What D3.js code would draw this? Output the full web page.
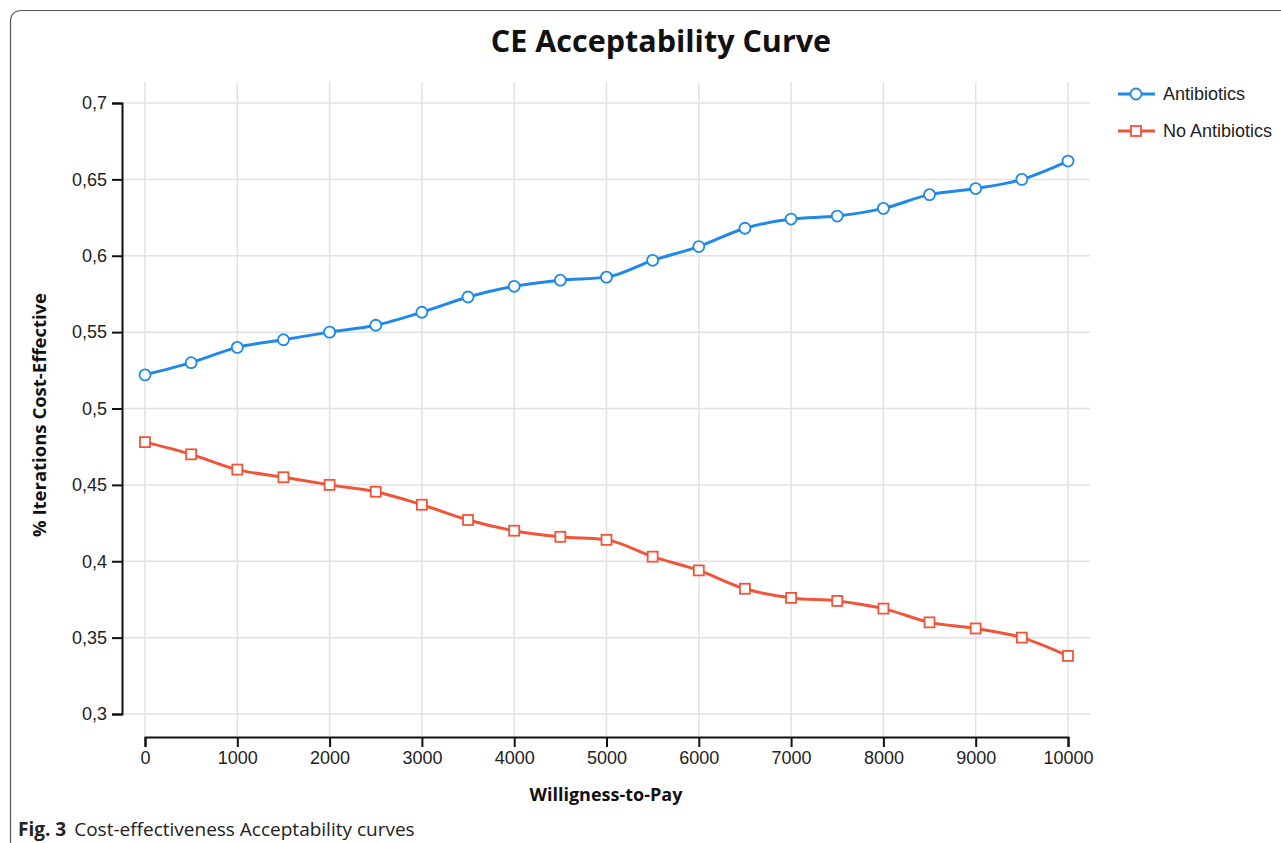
<!DOCTYPE html>
<html>
<head>
<meta charset="utf-8">
<script src="https://cdn.jsdelivr.net/npm/d3@7"></script>
<style>
  body { margin: 0; background: #fff; }
  svg { display: block; }
</style>
</head>
<body>
<div id="chart"></div>
<script>
// willingness-to-pay grid and the two acceptability curves
const wtp = [0, 500, 1000, 1500, 2000, 2500, 3000, 3500, 4000, 4500, 5000,
             5500, 6000, 6500, 7000, 7500, 8000, 8500, 9000, 9500, 10000];
const antibiotics = [0.522, 0.530, 0.540, 0.545, 0.550, 0.5545, 0.563, 0.573, 0.580, 0.584, 0.586,
                     0.597, 0.606, 0.618, 0.624, 0.626, 0.631, 0.640, 0.644, 0.650, 0.662];
const noAntibiotics = [0.478, 0.470, 0.460, 0.455, 0.450, 0.4455, 0.437, 0.427, 0.420, 0.416, 0.414,
                       0.403, 0.394, 0.382, 0.376, 0.374, 0.369, 0.360, 0.356, 0.350, 0.338];
const xTicks = [0, 1000, 2000, 3000, 4000, 5000, 6000, 7000, 8000, 9000, 10000];
const yTicks = [0.3, 0.35, 0.4, 0.45, 0.5, 0.55, 0.6, 0.65, 0.7];
const seriesNames = ['Antibiotics', 'No Antibiotics'];

const W = 1281, H = 843;
const blue = '#1f88e8', red = '#f0553a';

const svg = d3.select('#chart').append('svg')
    .attr('width', W)
    .attr('height', H);

// figure frame (rounded top-left corner, like the journal page)
svg.append('path')
    .attr('d', `M10.5,${H} L10.5,22 Q10.5,10.5 22,10.5 L${W},10.5`)
    .attr('fill', 'none')
    .attr('stroke', '#555')
    .attr('stroke-width', 1.2);

const x = d3.scaleLinear().domain([0, 10000]).range([145, 1068]);
const y = d3.scaleLinear().domain([0.3, 0.7]).range([714, 103]);

const fmt = d => String(d).replace('.', ',');

// grid
svg.append('g')
    .selectAll('line')
    .data(yTicks)
    .join('line')
    .attr('x1', 123).attr('x2', 1090)
    .attr('y1', d => y(d)).attr('y2', d => y(d))
    .attr('stroke', '#e2e2e2')
    .attr('stroke-width', 1.5);

svg.append('g')
    .selectAll('line')
    .data(wtp.filter(d => d % 1000 === 0))
    .join('line')
    .attr('x1', d => x(d)).attr('x2', d => x(d))
    .attr('y1', 82).attr('y2', 736)
    .attr('stroke', '#e2e2e2')
    .attr('stroke-width', 1.5);

// axes
const yAxis = svg.append('g')
    .attr('transform', 'translate(122,0)')
    .call(d3.axisLeft(y).tickValues(yTicks).tickFormat(fmt).tickSize(10).tickPadding(5));
const xAxis = svg.append('g')
    .attr('transform', 'translate(0,737)')
    .call(d3.axisBottom(x).tickValues(xTicks).tickFormat(d => String(d)).tickSize(10).tickPadding(4));

[yAxis, xAxis].forEach(a => {
    a.select('.domain').attr('stroke', '#111').attr('stroke-width', 2);
    a.selectAll('.tick line').attr('stroke', '#111').attr('stroke-width', 2);
    a.selectAll('text')
        .attr('fill', '#222')
        .style('font-family', '"Liberation Sans", Arial, sans-serif')
        .style('font-size', '18px');
});

// lines and markers
const line = d3.line()
    .x((d, i) => x(wtp[i]))
    .y(d => y(d))
    .curve(d3.curveMonotoneX);

svg.append('path')
    .datum(antibiotics)
    .attr('d', line)
    .attr('fill', 'none')
    .attr('stroke', blue)
    .attr('stroke-width', 3);

svg.append('path')
    .datum(noAntibiotics)
    .attr('d', line)
    .attr('fill', 'none')
    .attr('stroke', red)
    .attr('stroke-width', 3);

svg.append('g')
    .selectAll('circle')
    .data(antibiotics)
    .join('circle')
    .attr('cx', (d, i) => x(wtp[i]))
    .attr('cy', d => y(d))
    .attr('r', 5.5)
    .attr('fill', '#fff')
    .attr('stroke', blue)
    .attr('stroke-width', 1.8);

svg.append('g')
    .selectAll('rect')
    .data(noAntibiotics)
    .join('rect')
    .attr('x', (d, i) => x(wtp[i]) - 5)
    .attr('y', d => y(d) - 5)
    .attr('width', 10)
    .attr('height', 10)
    .attr('fill', '#fff')
    .attr('stroke', red)
    .attr('stroke-width', 1.8);

// titles
svg.append('text')
    .attr('x', 661).attr('y', 52)
    .attr('text-anchor', 'middle')
    .style('font-family', '"Open Sans", "Noto Sans", sans-serif')
    .style('font-weight', 'bold')
    .style('font-size', '30.5px')
    .attr('fill', '#111')
    .text('CE Acceptability Curve');

svg.append('text')
    .attr('x', 606).attr('y', 801)
    .attr('text-anchor', 'middle')
    .style('font-family', '"Open Sans", "Noto Sans", sans-serif')
    .style('font-weight', 'bold')
    .style('font-size', '18px')
    .attr('fill', '#111')
    .text('Willigness-to-Pay');

svg.append('text')
    .attr('transform', 'translate(46,415) rotate(-90)')
    .attr('text-anchor', 'middle')
    .style('font-family', '"Open Sans", "Noto Sans", sans-serif')
    .style('font-weight', 'bold')
    .style('font-size', '18.5px')
    .attr('fill', '#111')
    .text('% Iterations Cost-Effective');

// legend
const legend = svg.append('g');
seriesNames.forEach((name, i) => {
    const ly = 94 + i * 37;
    const c = i === 0 ? blue : red;
    legend.append('line')
        .attr('x1', 1118).attr('x2', 1155)
        .attr('y1', ly).attr('y2', ly)
        .attr('stroke', c).attr('stroke-width', 3);
    if (i === 0) {
        legend.append('circle')
            .attr('cx', 1136).attr('cy', ly).attr('r', 5.5)
            .attr('fill', '#fff').attr('stroke', c).attr('stroke-width', 1.8);
    } else {
        legend.append('rect')
            .attr('x', 1131).attr('y', ly - 5).attr('width', 10).attr('height', 10)
            .attr('fill', '#fff').attr('stroke', c).attr('stroke-width', 1.8);
    }
    legend.append('text')
        .attr('x', 1163).attr('y', ly + 6)
        .style('font-family', '"Liberation Sans", Arial, sans-serif')
        .style('font-size', '18px')
        .attr('fill', '#222')
        .text(name);
});

// figure caption
const cap = svg.append('text')
    .attr('x', 18).attr('y', 836)
    .style('font-family', '"Open Sans", "Noto Sans", sans-serif')
    .style('font-size', '19px')
    .attr('fill', '#222');
cap.append('tspan').style('font-weight', 'bold').text('Fig. 3');
cap.append('tspan').attr('dx', 8).text('Cost-effectiveness Acceptability curves');
</script>
</body>
</html>
